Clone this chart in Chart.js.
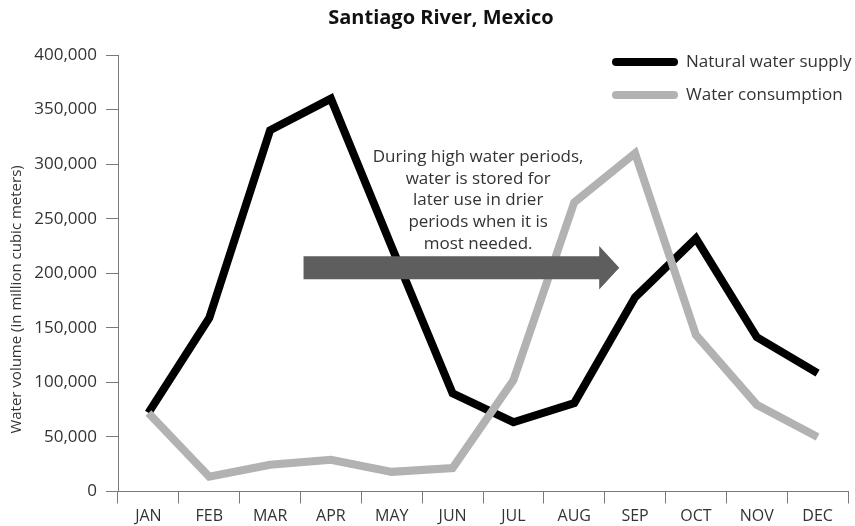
<!DOCTYPE html>
<html>
<head>
<meta charset="utf-8">
<script src="https://cdn.jsdelivr.net/npm/chart.js@4/dist/chart.umd.min.js"></script>
<style>
  html, body { margin: 0; padding: 0; background: #fff; }
  #wrap { width: 855px; height: 526px; position: relative; }
</style>
</head>
<body>
<div id="wrap"><canvas id="chart"></canvas></div>
<script>
// Monthly water volumes (million cubic meters)
const months = ['JAN', 'FEB', 'MAR', 'APR', 'MAY', 'JUN', 'JUL', 'AUG', 'SEP', 'OCT', 'NOV', 'DEC'];
const naturalSupply = [72000, 159000, 331000, 360000, 224000, 90000, 63500, 81000, 178000, 232000, 141500, 108500];
const waterConsumption = [72000, 13500, 24500, 29000, 18000, 21500, 102000, 265000, 310000, 143500, 79500, 50000];
const seriesNames = ['Natural water supply', 'Water consumption'];
const yMin = 0;
const yMax = 400000;
const yStep = 50000;

const chartTitle = 'Santiago River, Mexico';
const yAxisTitle = 'Water volume (in million cubic meters)';
const noteLines = [
  'During high water periods,',
  'water is stored for',
  'later use in drier',
  'periods when it is',
  'most needed.'
];

const FONT = '"Open Sans", "DejaVu Sans", sans-serif';
const TEXT = '#333333';
const AXIS = '#7a7a7a';
const SUPPLY_COLOR = '#000000';
const USE_COLOR = '#b2b2b2';
const ARROW_COLOR = '#5e5e5e';

// Storage arrow, placed in category-index / value units
const arrowSpec = { from: 2.55, headStart: 7.41, to: 7.74, value: 205000, shaftHalf: 10500, headHalf: 20000 };
// Note block: centre index, value of first line
const noteSpec = { index: 5.42, value: 306500, lineGap: 21.7 };

const storageArrow = {
  id: 'storageArrow',
  afterDatasetsDraw(chart) {
    const { ctx, scales: { x, y } } = chart;
    const x0 = x.getPixelForValue(arrowSpec.from);
    const xh = x.getPixelForValue(arrowSpec.headStart);
    const x1 = x.getPixelForValue(arrowSpec.to);
    const yc = y.getPixelForValue(arrowSpec.value);
    const sh = yc - y.getPixelForValue(arrowSpec.value + arrowSpec.shaftHalf);
    const hh = yc - y.getPixelForValue(arrowSpec.value + arrowSpec.headHalf);
    ctx.save();
    ctx.fillStyle = ARROW_COLOR;
    ctx.beginPath();
    ctx.moveTo(x0, yc - sh);
    ctx.lineTo(xh, yc - sh);
    ctx.lineTo(xh, yc - hh);
    ctx.lineTo(x1, yc);
    ctx.lineTo(xh, yc + hh);
    ctx.lineTo(xh, yc + sh);
    ctx.lineTo(x0, yc + sh);
    ctx.closePath();
    ctx.fill();

    // explanatory note above the arrow
    ctx.fillStyle = TEXT;
    ctx.font = '17px ' + FONT;
    ctx.textAlign = 'center';
    ctx.textBaseline = 'middle';
    const cx = x.getPixelForValue(noteSpec.index);
    const top = y.getPixelForValue(noteSpec.value);
    noteLines.forEach((line, i) => ctx.fillText(line, cx, top + i * noteSpec.lineGap));
    ctx.restore();
  }
};

const sideDecor = {
  id: 'sideDecor',
  afterDraw(chart) {
    const { ctx, chartArea, scales: { y } } = chart;
    ctx.save();
    // vertical axis title
    ctx.fillStyle = TEXT;
    ctx.font = '15px ' + FONT;
    ctx.textAlign = 'center';
    ctx.textBaseline = 'middle';
    ctx.translate(17, y.getPixelForValue(176000));
    ctx.rotate(-Math.PI / 2);
    ctx.fillText(yAxisTitle, 0, 0);
    ctx.restore();

    // legend with thick line samples
    ctx.save();
    const lx = chartArea.right - 236;
    const rows = [chartArea.top + 7, chartArea.top + 40];
    chart.data.datasets.slice().sort((a, b) => a.legendRank - b.legendRank).forEach((ds, i) => {
      ctx.strokeStyle = ds.borderColor;
      ctx.lineWidth = 8;
      ctx.lineCap = 'round';
      ctx.beginPath();
      ctx.moveTo(lx + 4, rows[i]);
      ctx.lineTo(lx + 62, rows[i]);
      ctx.stroke();
      ctx.fillStyle = TEXT;
      ctx.font = '17px ' + FONT;
      ctx.textAlign = 'left';
      ctx.textBaseline = 'middle';
      ctx.fillText(ds.label, lx + 74, rows[i]);
    });
    ctx.restore();
  }
};

new Chart(document.getElementById('chart'), {
  type: 'line',
  data: {
    labels: months,
    datasets: [
      {
        label: seriesNames[0],
        data: naturalSupply,
        borderColor: SUPPLY_COLOR,
        backgroundColor: SUPPLY_COLOR,
        borderWidth: 8,
        borderJoinStyle: 'miter',
        borderCapStyle: 'butt',
        pointRadius: 0,
        tension: 0,
        order: 1,
        legendRank: 0
      },
      {
        label: seriesNames[1],
        data: waterConsumption,
        borderColor: USE_COLOR,
        backgroundColor: USE_COLOR,
        borderWidth: 8,
        borderJoinStyle: 'miter',
        borderCapStyle: 'butt',
        pointRadius: 0,
        tension: 0,
        order: 0,
        legendRank: 1
      }
    ]
  },
  options: {
    responsive: true,
    maintainAspectRatio: false,
    devicePixelRatio: 1,
    animation: false,
    layout: { padding: { left: 34, right: 7, top: 0, bottom: 0 } },
    plugins: {
      legend: { display: false },
      tooltip: { enabled: false },
      title: {
        display: true,
        text: chartTitle,
        color: '#111',
        font: { family: FONT, size: 20, weight: 'bold' },
        padding: { top: 6, bottom: 25 }
      }
    },
    scales: {
      x: {
        offset: true,
        grid: { display: true, drawOnChartArea: false, drawTicks: true, tickLength: 12, color: AXIS, offset: true },
        border: { display: true, color: AXIS, width: 1 },
        ticks: { color: TEXT, font: { family: FONT, size: 16 }, padding: 3, maxRotation: 0, autoSkip: false },
        afterFit(s) { s.height = 34.5; }
      },
      y: {
        min: yMin,
        max: yMax,
        grid: { display: true, drawOnChartArea: false, drawTicks: true, tickLength: 12, color: AXIS },
        border: { display: true, color: AXIS, width: 1 },
        ticks: { stepSize: yStep, color: TEXT, font: { family: FONT, size: 17 }, padding: 9 },
        afterFit(s) { s.width = 84; }
      }
    }
  },
  plugins: [storageArrow, sideDecor]
});
</script>
</body>
</html>
